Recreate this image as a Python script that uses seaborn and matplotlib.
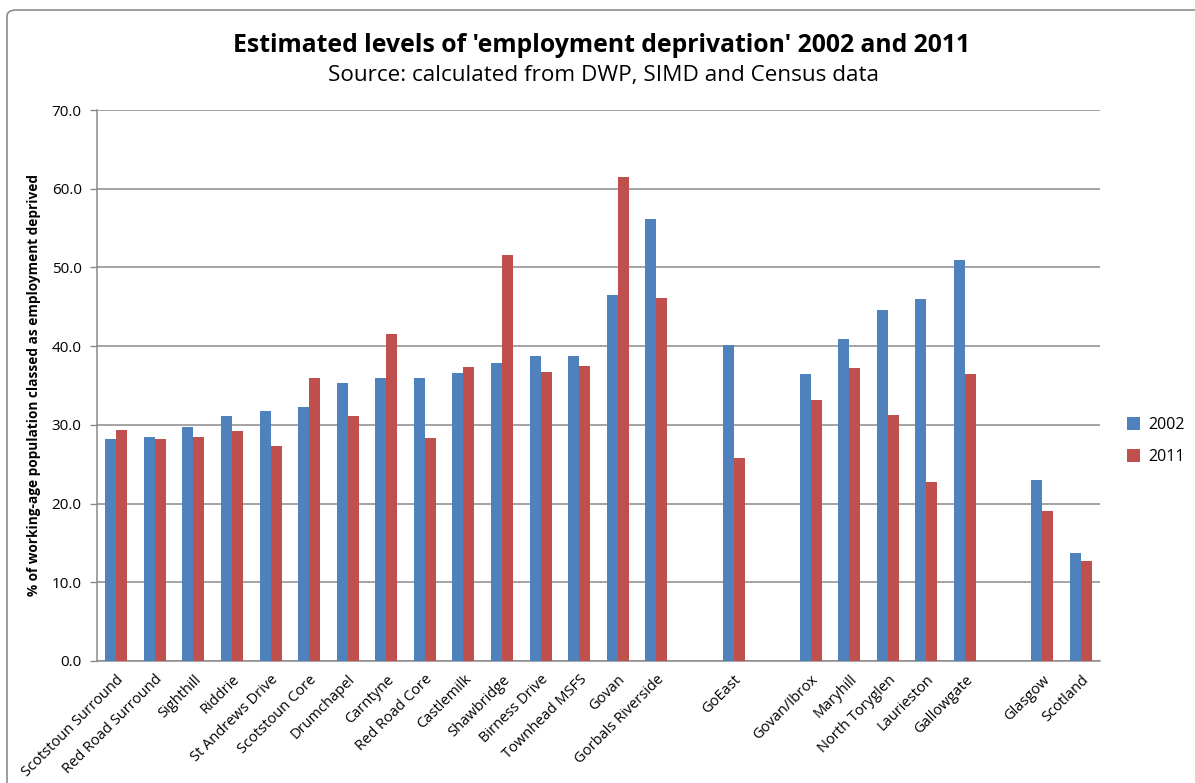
import numpy as np
import pandas as pd
import matplotlib.pyplot as plt
from matplotlib.patches import FancyBboxPatch
from matplotlib.ticker import FixedLocator
import seaborn as sns

# --- Data (blank slots are spacer categories) ---
areas = [
    "Scotstoun Surround", "Red Road Surround", "Sighthill", "Riddrie",
    "St Andrews Drive", "Scotstoun Core", "Drumchapel", "Carntyne",
    "Red Road Core", "Castlemilk", "Shawbridge", "Birness Drive",
    "Townhead MSFS", "Govan", "Gorbals Riverside", " ", "GoEast", "  ",
    "Govan/Ibrox", "Maryhill", "North Toryglen", "Laurieston", "Gallowgate",
    "   ", "Glasgow", "Scotland",
]
vals_2002 = [
    28.2, 28.4, 29.7, 31.1, 31.8, 32.3, 35.3, 36.0, 36.0, 36.6, 37.9, 38.7,
    38.8, 46.5, 56.2, None, 40.1, None, 36.5, 40.9, 44.6, 46.0, 51.0,
    None, 23.0, 13.7,
]
vals_2011 = [
    29.3, 28.2, 28.5, 29.2, 27.3, 36.0, 31.1, 41.5, 28.3, 37.4, 51.6, 36.7,
    37.5, 61.5, 46.1, None, 25.8, None, 33.1, 37.2, 31.3, 22.8, 36.5,
    None, 19.1, 12.7,
]
years = ["2002", "2011"]
colors = ["#4F81BD", "#C0504D"]

df = pd.DataFrame({
    "area": areas * 2,
    "year": ["2002"] * len(areas) + ["2011"] * len(areas),
    "value": vals_2002 + vals_2011,
}).dropna()

sns.set_style("white")
plt.rcParams["font.family"] = ["Open Sans", "DejaVu Sans"]
plt.rcParams["text.color"] = "black"
plt.rcParams["axes.labelcolor"] = "black"

fig = plt.figure(figsize=(11.95, 7.83), dpi=100)
ax = fig.add_axes([97 / 1195, 1 - 661 / 783, (1100 - 97) / 1195, (661 - 110) / 783])

# chart border
fig.patches.append(FancyBboxPatch(
    (7 / 1195, -0.05), 1.1, 1 - 10 / 783 + 0.05,
    boxstyle="round,pad=0,rounding_size=0.008", transform=fig.transFigure,
    fill=False, edgecolor="#8c8c8c", linewidth=1.2, zorder=0))

sns.barplot(data=df, x="area", y="value", hue="year", order=areas,
            hue_order=years, palette=colors, width=0.57, saturation=1,
            edgecolor="none", ax=ax, zorder=3)

ax.set_ylim(0, 70)
ax.set_xlim(-0.5, len(areas) - 0.5)
ax.set_yticks(np.arange(0, 71, 10))
ax.set_yticklabels([f"{v:.1f}" for v in np.arange(0, 71, 10)], fontsize=11)
ax.yaxis.grid(True, color="#8a8a8a", linewidth=1.1, zorder=0)
ax.set_axisbelow(True)

ax.set_xticks(range(len(areas)))
ax.set_xticklabels([a.strip() for a in areas], rotation=45, ha="right",
                   rotation_mode="anchor", fontsize=10.5)
ax.tick_params(axis="x", which="major", length=0, pad=8, labelcolor="black")
ax.xaxis.set_minor_locator(FixedLocator(np.arange(-0.5, len(areas), 1)))
ax.tick_params(axis="x", which="minor", length=5, color="#8a8a8a", width=1)
ax.tick_params(axis="y", length=5, color="#8a8a8a", width=1, left=True, pad=6,
               labelcolor="black")

for side in ["top", "right"]:
    ax.spines[side].set_visible(False)
for side in ["left", "bottom"]:
    ax.spines[side].set_color("#8a8a8a")
    ax.spines[side].set_linewidth(1.1)

ax.set_xlabel("")
ax.set_ylabel("% of working-age population classed as employment deprived",
              fontsize=9.8, fontweight="bold", labelpad=8)

fig.text(0.503, 1 - 45 / 783, "Estimated levels of 'employment deprivation' 2002 and 2011",
         ha="center", va="center", fontsize=17.8, fontweight="bold")
fig.text(0.505, 1 - 76 / 783, "Source: calculated from DWP, SIMD and Census data",
         ha="center", va="center", fontsize=16.2)

ax.legend(title=None, frameon=False, fontsize=11.5, handlelength=0.8,
          handleheight=0.8, labelspacing=1.0, handletextpad=0.5,
          loc="center left", bbox_to_anchor=(1113 / 1195, 1 - 441 / 783),
          bbox_transform=fig.transFigure)

fig.savefig("out.png", dpi=100)
